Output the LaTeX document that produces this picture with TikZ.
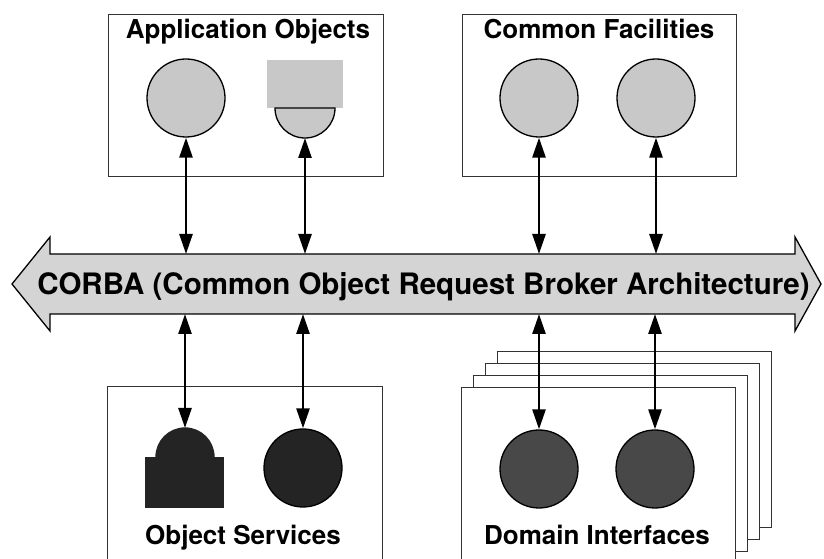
\documentclass[tikz,border=0pt]{standalone}
\usepackage{fontspec}
\setmainfont{TeX Gyre Heros}
\usetikzlibrary{arrows.meta,positioning,calc}
\definecolor{lightstip}{RGB}{200,200,200}
\definecolor{busgray}{RGB}{212,212,212}
\definecolor{darkstip}{RGB}{36,36,36}
\definecolor{midstip}{RGB}{72,72,72}

\begin{document}
\begin{tikzpicture}[x=1pt,y=1pt,
  grp/.style={draw=black!80,line width=1pt,fill=white},
  lbl/.style={font=\fontsize{26}{30}\selectfont\bfseries,inner sep=0pt,anchor=base},
  obj/.style={circle,draw=black,line width=1.3pt,minimum size=78pt,inner sep=0pt},
  lite/.style={obj,fill=lightstip},
  dark/.style={obj,fill=darkstip},
  mid/.style={obj,fill=midstip},
  ar/.style={{Triangle[length=20pt,width=13pt]}-{Triangle[length=20pt,width=13pt]},line width=2.6pt}
]
\useasboundingbox (0,0) rectangle (824,559);
\clip (0,0) rectangle (824,559);

% ---- top row : application objects, common facilities
\draw[grp] (108,382) rectangle (383,544);
\draw[grp] (462,382) rectangle (736,544);
\node[lbl] (aolbl) at (248,520) {Application Objects};
\node[lbl] (cflbl) at (599,520) {Common Facilities};
\node[lite] (ao1) at (186,461) {};
\node[lite] (cf1) at (539,461) {};
\node[lite] (cf2) at (656,461) {};
% block sitting on a half disc
\fill[lightstip] (267,451) rectangle (343,499);
\draw[fill=lightstip,line width=1.3pt] (275,451) arc[start angle=180,end angle=360,radius=30] -- cycle;
\coordinate (ao2) at (305,421);

% ---- bottom row : object services, stacked domain interfaces
\foreach \k in {3,2,1}
  \draw[grp] ({461+12*\k},{-5+12*\k}) rectangle ({735+12*\k},{171+12*\k});
\draw[grp] (461,-5) rectangle (735,171);
\draw[grp] (107,-5) rectangle (382,172);
\node[lbl] (oslbl) at (243,14) {Object Services};
\node[lbl] (dilbl) at (597,14) {Domain Interfaces};
% half disc sitting on a block
\fill[darkstip] (145,51) rectangle (224,102);
\draw[fill=darkstip,draw=darkstip,line width=1.3pt] (156,102) arc[start angle=180,end angle=0,radius=29] -- cycle;
\coordinate (os1) at (185,131);
\node[dark] (os2) at (303,91) {};
\node[mid] (di1) at (539,90) {};
\node[mid] (di2) at (655,90) {};

% ---- the bus
\draw[fill=busgray,line width=1.3pt] (12,275) -- (50,322) -- (50,305) -- (795,305) -- (795,322)
  -- (821,275) -- (795,228) -- (795,245) -- (50,245) -- (50,228) -- cycle;
\node[font=\fontsize{29.5}{36}\selectfont\bfseries,inner sep=0pt,anchor=base] (bus) at (423.5,264)
  {CORBA (Common Object Request Broker Architecture)};
\coordinate (busN) at (412,305);
\coordinate (busS) at (412,245);

\foreach \n in {ao1,ao2,cf1,cf2}
  \draw[ar] (busN -| \n) -- (\n);
\foreach \n in {os1,os2,di1,di2}
  \draw[ar] (busS -| \n) -- (\n);
\end{tikzpicture}
\end{document}
